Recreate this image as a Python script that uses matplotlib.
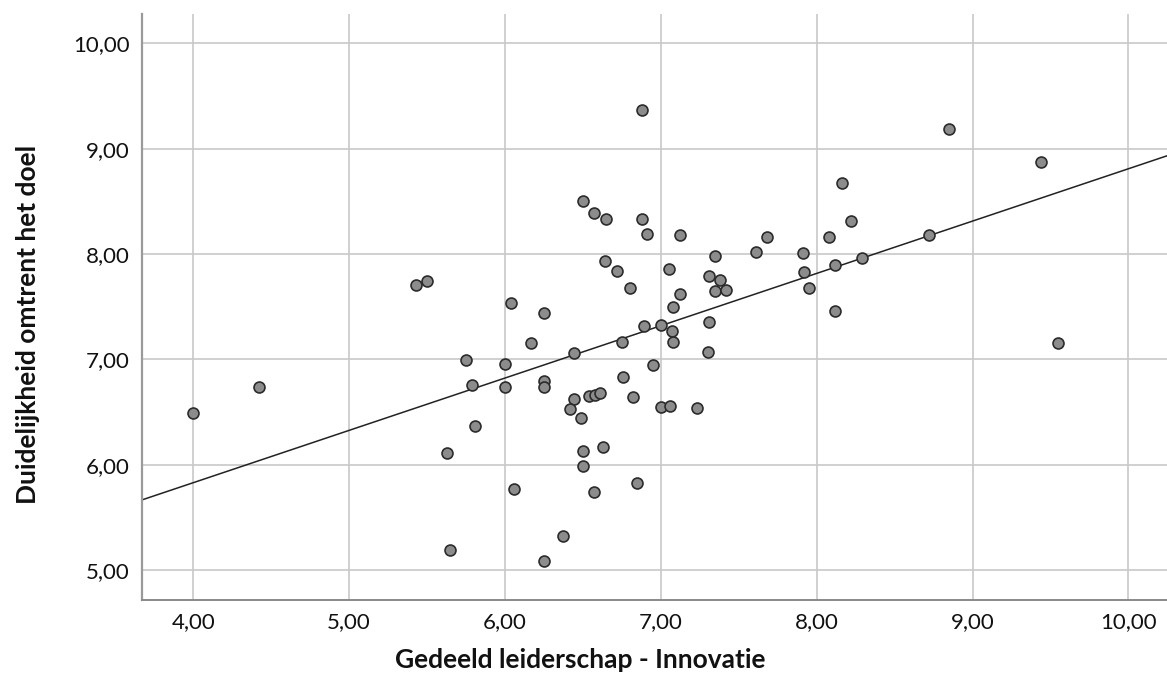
import matplotlib
matplotlib.use("Agg")
import matplotlib.pyplot as plt
import numpy as np

plt.rcParams['font.family'] = ['Lato', 'DejaVu Sans']

# Gedeeld leiderschap - Innovatie (x) en Duidelijkheid omtrent het doel (y)
innovatie = [
    4.00, 4.42, 5.43, 5.50, 6.04, 6.17, 5.75, 6.00, 5.79, 6.00,
    5.81, 5.63, 6.06, 5.65, 6.25, 6.25, 6.80, 7.12, 7.35, 7.42,
    7.95, 7.08, 7.31, 6.89, 7.00, 7.07, 7.08, 6.75, 6.44, 7.30,
    6.95, 6.25, 6.25, 6.76, 6.44, 6.42, 6.54, 6.58, 6.61, 6.82,
    6.49, 7.00, 7.06, 7.23, 6.50, 6.63, 6.50, 6.85, 6.57, 6.37,
    6.88, 6.50, 6.57, 6.65, 6.88, 6.91, 7.12, 7.68, 7.61, 7.91,
    8.08, 6.64, 6.72, 7.05, 7.35, 7.31, 7.38, 7.92, 8.85, 9.44,
    8.16, 8.22, 8.72, 8.12, 8.29, 8.12, 9.55,
]
duidelijkheid = [
    6.49, 6.74, 7.71, 7.74, 7.53, 7.15, 6.99, 6.96, 6.76, 6.74,
    6.37, 6.11, 5.77, 5.19, 7.44, 5.08, 7.68, 7.62, 7.65, 7.66,
    7.68, 7.50, 7.35, 7.32, 7.33, 7.27, 7.16, 7.16, 7.06, 7.07,
    6.95, 6.79, 6.74, 6.83, 6.62, 6.53, 6.65, 6.66, 6.68, 6.64,
    6.44, 6.55, 6.56, 6.54, 6.13, 6.17, 5.99, 5.83, 5.74, 5.32,
    9.37, 8.50, 8.39, 8.33, 8.33, 8.19, 8.18, 8.16, 8.02, 8.01,
    8.16, 7.93, 7.84, 7.86, 7.98, 7.79, 7.75, 7.83, 9.19, 8.87,
    8.67, 8.31, 8.18, 7.90, 7.96, 7.46, 7.15,
]

tick_vals = [4, 5, 6, 7, 8, 9, 10]
y_tick_vals = [5, 6, 7, 8, 9, 10]
x_lim = (3.671, 10.248)
y_lim = (4.715, 10.279)

fig = plt.figure(figsize=(11.67, 6.88), dpi=100)
ax = fig.add_axes([0.1217, 0.128, 0.8783, 0.8517])

ax.grid(True, color='#c8c8c8', linewidth=1.2)
ax.set_axisbelow(True)

ax.scatter(innovatie, duidelijkheid, s=62, facecolor='#8c8c8c',
           edgecolor='#2b2b2b', linewidth=1.2, zorder=3)

# lineaire fit
b, a = np.polyfit(innovatie, duidelijkheid, 1)
xs = np.array(x_lim)
ax.plot(xs, a + b * xs, color='#222222', linewidth=1.1, zorder=2)

ax.set_xlim(*x_lim)
ax.set_ylim(*y_lim)
ax.set_xticks(tick_vals)
ax.set_yticks(y_tick_vals)
ax.set_xticklabels([f'{v:.2f}'.replace('.', ',') for v in tick_vals])
ax.set_yticklabels([f'{v:.2f}'.replace('.', ',') for v in y_tick_vals])
ax.tick_params(length=0, labelsize=16, pad=9, labelcolor='#111111')

for side in ['top', 'right']:
    ax.spines[side].set_visible(False)
ax.spines['left'].set_color('#9a9a9a')
ax.spines['left'].set_linewidth(1.6)
ax.spines['bottom'].set_color('#8a8a8a')
ax.spines['bottom'].set_linewidth(1.4)

fig.text(0.497, 0.041, 'Gedeeld leiderschap - Innovatie', ha='center',
         va='center', fontsize=19, fontweight='bold', color='#111111')
fig.text(0.024, 0.528, 'Duidelijkheid omtrent het doel', ha='center',
         va='center', rotation=90, fontsize=19, fontweight='bold',
         color='#111111')

fig.savefig('out.png', dpi=100)
